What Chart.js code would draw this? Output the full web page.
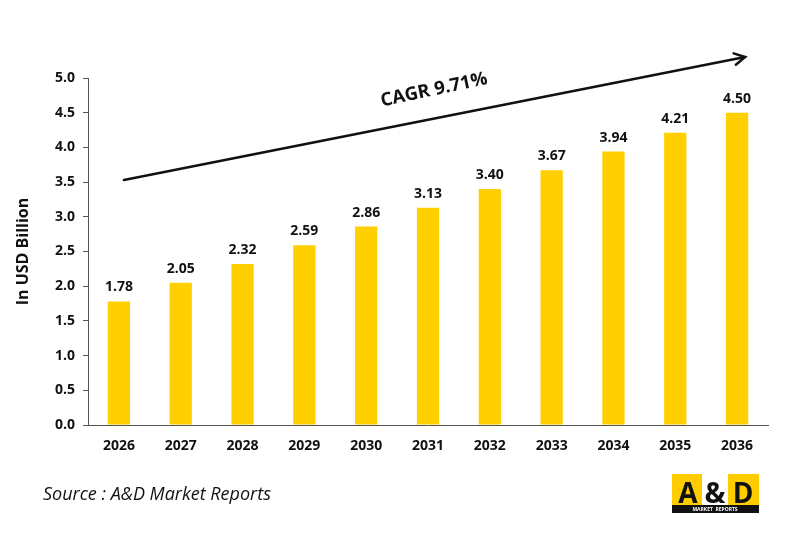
<!DOCTYPE html>
<html>
<head>
<meta charset="utf-8">
<script src="https://cdn.jsdelivr.net/npm/chart.js@4"></script>
<style>
  html, body { margin: 0; padding: 0; background: #fff; }
  #wrap { width: 800px; height: 533px; position: relative; }
</style>
</head>
<body>
<div id="wrap"><canvas id="marketChart" width="800" height="533"></canvas></div>
<script>
// Data
const years = ['2026', '2027', '2028', '2029', '2030', '2031', '2032', '2033', '2034', '2035', '2036'];
const marketSize = [1.78, 2.05, 2.32, 2.59, 2.86, 3.13, 3.40, 3.67, 3.94, 4.21, 4.50];
const yTicks = [0, 0.5, 1.0, 1.5, 2.0, 2.5, 3.0, 3.5, 4.0, 4.5, 5.0];
const cagrText = 'CAGR 9.71%';
const sourceText = 'Source : A&D Market Reports';

const FONT = '"Open Sans", Lato, sans-serif';
const BAR_COLOR = '#FFCF00';

// Value labels above each bar
const valueLabels = {
    id: 'valueLabels',
    afterDatasetsDraw(chart) {
        const ctx = chart.ctx;
        const meta = chart.getDatasetMeta(0);
        ctx.save();
        ctx.font = `bold 14px ${FONT}`;
        ctx.fillStyle = '#111';
        ctx.textAlign = 'center';
        ctx.textBaseline = 'bottom';
        meta.data.forEach((bar, i) => {
            ctx.fillText(marketSize[i].toFixed(2), bar.x, bar.y - 7);
        });
        ctx.restore();
    }
};

// CAGR arrow, source line and logo
const decorations = {
    id: 'decorations',
    afterDraw(chart) {
        const ctx = chart.ctx;
        const meta = chart.getDatasetMeta(0);
        const first = meta.data[0];
        const last = meta.data[meta.data.length - 1];

        // arrow
        const x1 = first.x + 5, y1 = 180;
        const x2 = last.x + 8, y2 = 57;
        const ang = Math.atan2(y2 - y1, x2 - x1);
        ctx.save();
        ctx.strokeStyle = '#111';
        ctx.lineWidth = 2.5;
        ctx.lineCap = 'round';
        ctx.beginPath();
        ctx.moveTo(x1, y1);
        ctx.lineTo(x2, y2);
        ctx.stroke();
        ctx.beginPath();
        ctx.moveTo(x2 - 12 * Math.cos(ang - 0.5), y2 - 12 * Math.sin(ang - 0.5));
        ctx.lineTo(x2, y2);
        ctx.lineTo(x2 - 12 * Math.cos(ang + 0.5), y2 - 12 * Math.sin(ang + 0.5));
        ctx.stroke();

        // CAGR label
        ctx.translate(434, 90);
        ctx.rotate(-0.21);
        ctx.font = `bold 18.5px ${FONT}`;
        ctx.fillStyle = '#111';
        ctx.textAlign = 'center';
        ctx.textBaseline = 'middle';
        ctx.fillText(cagrText, 0, 0);
        ctx.restore();

        // source
        ctx.save();
        ctx.font = `italic 18px ${FONT}`;
        ctx.fillStyle = '#111';
        ctx.textAlign = 'left';
        ctx.textBaseline = 'middle';
        ctx.fillText(sourceText, 43, 495);
        ctx.restore();

        // logo
        ctx.save();
        ctx.fillStyle = '#FFCC00';
        ctx.fillRect(672, 474, 87, 39);
        ctx.fillStyle = '#fff';
        ctx.fillRect(702, 474, 26, 31);
        ctx.fillStyle = '#111';
        ctx.fillRect(672, 505, 87, 8);
        ctx.font = `bold 28px ${FONT}`;
        ctx.textAlign = 'center';
        ctx.textBaseline = 'alphabetic';
        ctx.fillText('A', 688, 503);
        ctx.fillText('&', 715, 503);
        ctx.fillText('D', 743, 503);
        ctx.font = `bold 5px ${FONT}`;
        ctx.fillStyle = '#fff';
        ctx.fillText('MARKET  REPORTS', 715, 511);
        ctx.restore();
    }
};

const ctx = document.getElementById('marketChart').getContext('2d');
new Chart(ctx, {
    type: 'bar',
    data: {
        labels: years,
        datasets: [{
            data: marketSize,
            backgroundColor: BAR_COLOR,
            borderWidth: 0,
            barPercentage: 0.36,
            categoryPercentage: 1.0
        }]
    },
    options: {
        responsive: false,
        animation: false,
        layout: { padding: { left: 14, right: 32, top: 78, bottom: 78 } },
        plugins: {
            legend: { display: false },
            tooltip: { enabled: false }
        },
        scales: {
            x: {
                grid: { display: false },
                border: { display: true, color: '#555', width: 1 },
                ticks: { color: '#111', font: { family: FONT, size: 14, weight: 'bold' }, padding: 5 },
                afterFit(scale) { scale.height = 30; }
            },
            y: {
                min: 0,
                max: 5,
                afterBuildTicks(scale) { scale.ticks = yTicks.map(v => ({ value: v })); },
                grid: { drawOnChartArea: false, drawTicks: true, tickLength: 5, color: '#555' },
                border: { display: true, color: '#555', width: 1 },
                ticks: {
                    color: '#111',
                    font: { family: FONT, size: 14, weight: 'bold' },
                    padding: 8,
                    callback: v => Number(v).toFixed(1)
                },
                title: {
                    display: true,
                    text: 'In USD Billion',
                    color: '#111',
                    font: { family: FONT, size: 16, weight: 'bold' },
                    padding: { top: 0, bottom: 0 }
                },
                afterFit(scale) { scale.width = 74; }
            }
        }
    },
    plugins: [valueLabels, decorations]
});
</script>
</body>
</html>
